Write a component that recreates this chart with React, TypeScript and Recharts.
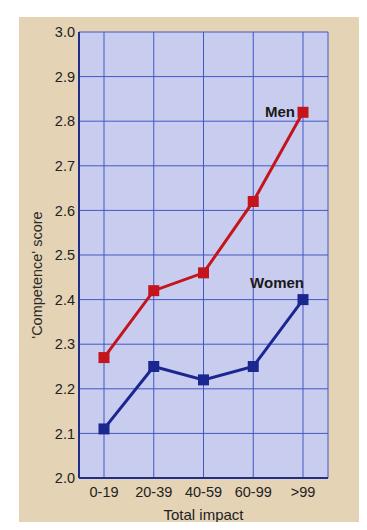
import {
  LineChart,
  Line,
  XAxis,
  YAxis,
  CartesianGrid,
  LabelList,
} from "recharts"

const categories = ["0-19", "20-39", "40-59", "60-99", ">99"]
const men = [2.27, 2.42, 2.46, 2.62, 2.82]
const women = [2.11, 2.25, 2.22, 2.25, 2.4]
const yTicks = [2.0, 2.1, 2.2, 2.3, 2.4, 2.5, 2.6, 2.7, 2.8, 2.9, 3.0]

const data = categories.map((c, i) => ({ impact: c, men: men[i], women: women[i] }))

const font = "'Liberation Sans', Arial, sans-serif"
const menColor = "#c4141c"
const womenColor = "#1b2790"
const frame = "#1f2d8c"

const Square = (color: string) => (props: any) => {
  const { cx, cy } = props
  if (cx == null || cy == null) return null
  return <rect x={cx - 5.5} y={cy - 5.5} width={11} height={11} fill={color} />
}

const seriesLabel = (text: string, dx: number, dy: number) => (props: any) => {
  const { x, y, index } = props
  if (index !== categories.length - 1) return null
  return (
    <text
      x={x + dx}
      y={y + dy}
      textAnchor="end"
      dominantBaseline="central"
      fontFamily={font}
      fontWeight="bold"
      fontSize={15}
      fill="#1a1a1a"
    >
      {text}
    </text>
  )
}

const YTitle = (props: any) => {
  const { viewBox } = props
  const cx = viewBox.x + 37
  const cy = viewBox.y + viewBox.height / 2 + 20
  return (
    <text
      x={cx}
      y={cy}
      transform={`rotate(-90, ${cx}, ${cy})`}
      textAnchor="middle"
      dominantBaseline="central"
      fontFamily={font}
      fontSize={14.5}
      fill="#2a2a2a"
    >
      'Competence' score
    </text>
  )
}

export default function App() {
  return (
    <div style={{ position: "relative", width: 367, height: 530, margin: -8, background: "#ffffff", overflow: "hidden" }}>
      <div
        style={{
          position: "absolute",
          left: 19,
          top: 17,
          width: 340,
          height: 513,
          background: "#e5d3b5",
        }}
      />
      <div style={{ position: "absolute", left: 0, top: 0 }}>
        <LineChart width={367} height={530} data={data} margin={{ top: 32, right: 39, left: 0, bottom: 0 }}>
          <CartesianGrid stroke="#4257c4" strokeWidth={1} fill="#c8cdef" fillOpacity={1} />
          <XAxis
            dataKey="impact"
            height={52}
            padding={{ left: 25, right: 25 }}
            axisLine={{ stroke: frame, strokeWidth: 2 }}
            tickLine={false}
            tickSize={0}
            tickMargin={9}
            tick={{ fill: "#222", fontSize: 14.5, fontFamily: font }}
          />
          <XAxis
            xAxisId="top"
            dataKey="impact"
            orientation="top"
            height={0}
            tick={false}
            tickLine={false}
            axisLine={{ stroke: frame, strokeWidth: 2 }}
          />
          <YAxis
            width={79}
            domain={[2, 3]}
            ticks={yTicks}
            tickFormatter={(v: number) => v.toFixed(1)}
            axisLine={{ stroke: frame, strokeWidth: 2 }}
            tickLine={false}
            tickSize={0}
            tickMargin={4}
            tick={{ fill: "#222", fontSize: 14.5, fontFamily: font }}
            label={<YTitle />}
          />
          <YAxis
            yAxisId="right"
            orientation="right"
            width={0}
            domain={[2, 3]}
            tick={false}
            tickLine={false}
            axisLine={{ stroke: frame, strokeWidth: 2 }}
          />
          <Line
            dataKey="men"
            stroke={menColor}
            strokeWidth={3}
            dot={Square(menColor)}
            activeDot={false}
            isAnimationActive={false}
          >
            <LabelList dataKey="men" content={seriesLabel("Men", -8, -1)} />
          </Line>
          <Line
            dataKey="women"
            stroke={womenColor}
            strokeWidth={3}
            dot={Square(womenColor)}
            activeDot={false}
            isAnimationActive={false}
          >
            <LabelList dataKey="women" content={seriesLabel("Women", 1, -17)} />
          </Line>
        </LineChart>
      </div>
      <div
        style={{
          position: "absolute",
          left: 79,
          width: 249,
          top: 506,
          height: 18,
          lineHeight: "18px",
          textAlign: "center",
          fontFamily: font,
          fontSize: 15,
          color: "#222",
        }}
      >
        Total impact
      </div>
    </div>
  )
}
